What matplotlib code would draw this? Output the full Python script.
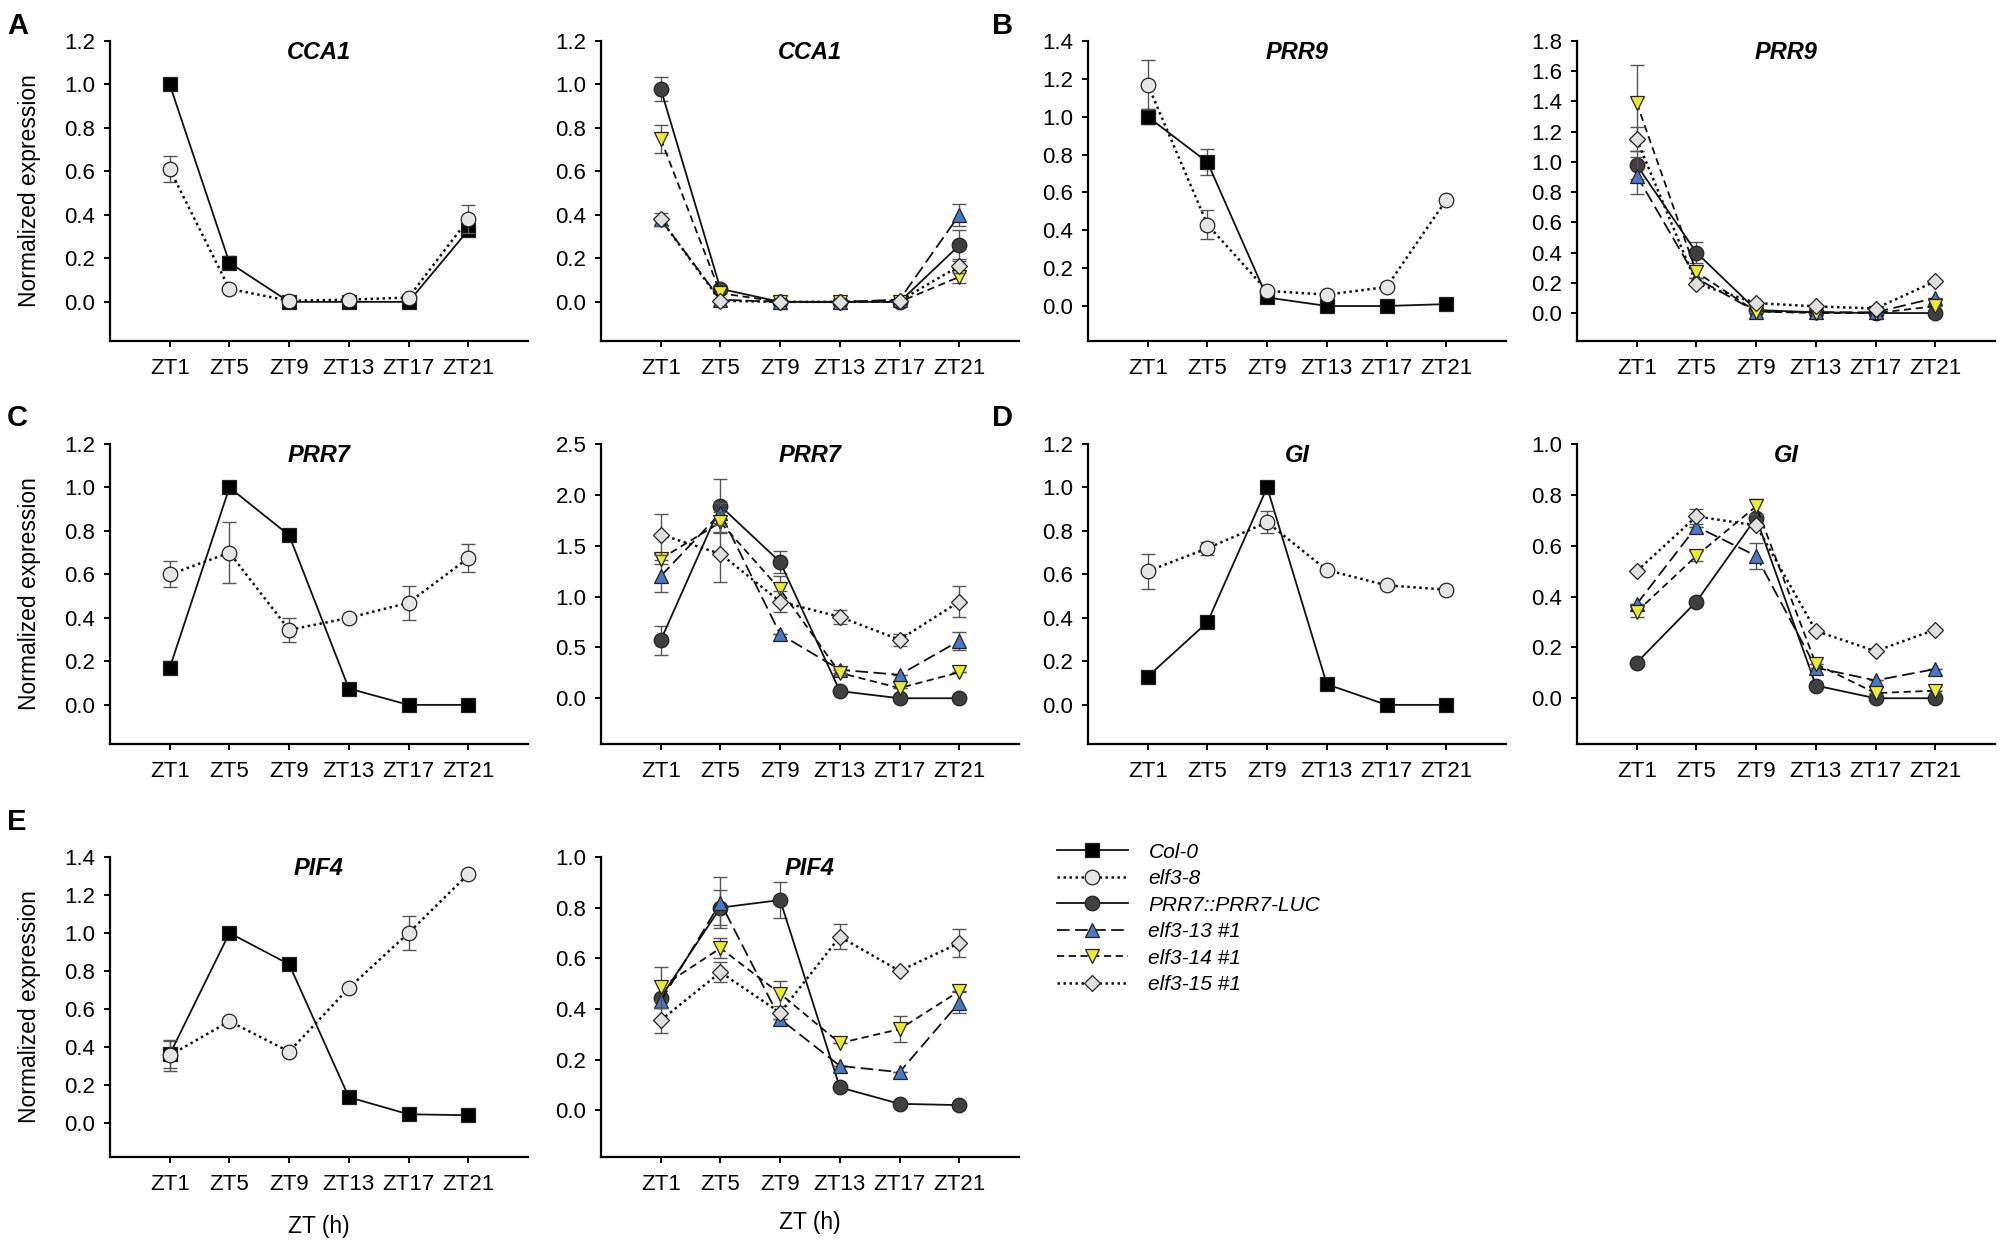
import numpy as np
import matplotlib
matplotlib.use("Agg")
import matplotlib.pyplot as plt
from matplotlib.lines import Line2D

plt.rcParams['font.family'] = ['Liberation Sans', 'DejaVu Sans']

zt_labels = ['ZT1', 'ZT5', 'ZT9', 'ZT13', 'ZT17', 'ZT21']

# CCA1
cca1_col0 = [1.0, 0.18, 0.0, 0.0, 0.0, 0.33]
cca1_col0_err = [0.0, 0.03, 0.0, 0.0, 0.0, 0.02]
cca1_elf38 = [0.61, 0.06, 0.005, 0.01, 0.02, 0.38]
cca1_elf38_err = [0.06, 0.0, 0.0, 0.0, 0.0, 0.065]
cca1_luc = [0.98, 0.06, 0.0, 0.0, 0.0, 0.26]
cca1_luc_err = [0.055, 0.0, 0.0, 0.0, 0.0, 0.07]
cca1_e13 = [0.38, 0.01, 0.0, 0.0, 0.01, 0.40]
cca1_e13_err = [0.0, 0.0, 0.0, 0.0, 0.0, 0.05]
cca1_e14 = [0.75, 0.04, 0.0, 0.0, 0.0, 0.115]
cca1_e14_err = [0.065, 0.0, 0.0, 0.0, 0.0, 0.03]
cca1_e15 = [0.38, 0.005, 0.0, 0.0, 0.005, 0.165]
cca1_e15_err = [0.03, 0.0, 0.0, 0.0, 0.0, 0.03]

# PRR9
prr9_col0 = [1.0, 0.76, 0.045, 0.0, 0.0, 0.01]
prr9_col0_err = [0.04, 0.07, 0.0, 0.0, 0.0, 0.0]
prr9_elf38 = [1.17, 0.43, 0.08, 0.06, 0.10, 0.56]
prr9_elf38_err = [0.13, 0.075, 0.0, 0.0, 0.0, 0.0]
prr9_luc = [0.98, 0.40, 0.02, 0.005, 0.0, 0.0]
prr9_luc_err = [0.09, 0.07, 0.0, 0.0, 0.0, 0.0]
prr9_e13 = [0.91, 0.23, 0.01, 0.005, 0.005, 0.10]
prr9_e13_err = [0.12, 0.0, 0.0, 0.0, 0.0, 0.0]
prr9_e14 = [1.39, 0.27, 0.01, 0.0, 0.0, 0.045]
prr9_e14_err = [0.25, 0.04, 0.0, 0.0, 0.0, 0.0]
prr9_e15 = [1.15, 0.195, 0.066, 0.044, 0.03, 0.21]
prr9_e15_err = [0.08, 0.0, 0.0, 0.0, 0.0, 0.0]

# PRR7
prr7_col0 = [0.17, 1.0, 0.78, 0.075, 0.0, 0.0]
prr7_col0_err = [0.03, 0.0, 0.0, 0.0, 0.0, 0.0]
prr7_elf38 = [0.60, 0.70, 0.345, 0.40, 0.47, 0.675]
prr7_elf38_err = [0.06, 0.14, 0.055, 0.0, 0.078, 0.065]
prr7_luc = [0.57, 1.89, 1.34, 0.07, 0.0, 0.0]
prr7_luc_err = [0.14, 0.27, 0.11, 0.0, 0.0, 0.0]
prr7_e13 = [1.20, 1.82, 0.63, 0.28, 0.23, 0.565]
prr7_e13_err = [0.16, 0.1, 0.0, 0.0, 0.0, 0.09]
prr7_e14 = [1.37, 1.73, 1.07, 0.25, 0.10, 0.255]
prr7_e14_err = [0.05, 0.1, 0.13, 0.0, 0.0, 0.0]
prr7_e15 = [1.61, 1.42, 0.95, 0.80, 0.575, 0.95]
prr7_e15_err = [0.2, 0.28, 0.1, 0.07, 0.06, 0.15]

# GI
gi_col0 = [0.13, 0.38, 1.0, 0.095, 0.0, 0.0]
gi_col0_err = [0.0, 0.0, 0.0, 0.0, 0.0, 0.0]
gi_elf38 = [0.615, 0.72, 0.84, 0.62, 0.55, 0.53]
gi_elf38_err = [0.08, 0.03, 0.05, 0.0, 0.0, 0.0]
gi_luc = [0.14, 0.38, 0.71, 0.05, 0.0, 0.0]
gi_luc_err = [0.0, 0.0, 0.0, 0.0, 0.0, 0.0]
gi_e13 = [0.37, 0.675, 0.56, 0.12, 0.07, 0.115]
gi_e13_err = [0.0, 0.0, 0.05, 0.0, 0.0, 0.0]
gi_e14 = [0.34, 0.56, 0.755, 0.135, 0.02, 0.03]
gi_e14_err = [0.02, 0.02, 0.03, 0.0, 0.0, 0.0]
gi_e15 = [0.50, 0.715, 0.68, 0.265, 0.185, 0.27]
gi_e15_err = [0.0, 0.03, 0.0, 0.0, 0.0, 0.0]

# PIF4
pif4_col0 = [0.36, 1.0, 0.835, 0.135, 0.045, 0.04]
pif4_col0_err = [0.07, 0.0, 0.0, 0.0, 0.0, 0.0]
pif4_elf38 = [0.355, 0.535, 0.375, 0.71, 1.0, 1.31]
pif4_elf38_err = [0.08, 0.0, 0.0, 0.0, 0.09, 0.0]
pif4_luc = [0.445, 0.80, 0.83, 0.09, 0.025, 0.02]
pif4_luc_err = [0.0, 0.07, 0.07, 0.0, 0.0, 0.0]
pif4_e13 = [0.43, 0.82, 0.36, 0.175, 0.15, 0.425]
pif4_e13_err = [0.0, 0.1, 0.0, 0.0, 0.0, 0.04]
pif4_e14 = [0.485, 0.64, 0.46, 0.265, 0.32, 0.47]
pif4_e14_err = [0.08, 0.04, 0.05, 0.0, 0.05, 0.0]
pif4_e15 = [0.355, 0.545, 0.385, 0.685, 0.55, 0.66]
pif4_e15_err = [0.05, 0.04, 0.0, 0.05, 0.0, 0.055]

styles = {
    'Col-0': dict(ls='-', lw=1.3, marker='s', mfc='black', ms=10),
    'elf3-8': dict(ls=(0, (1, 1.4)), lw=1.8, marker='o', mfc='#e6e6e6', ms=10.5),
    'PRR7::PRR7-LUC': dict(ls='-', lw=1.3, marker='o', mfc='#404040', ms=10.5),
    'elf3-13 #1': dict(ls=(0, (7, 3)), lw=1.3, marker='^', mfc='#4a78c4', ms=10.5),
    'elf3-14 #1': dict(ls=(0, (4, 2.5)), lw=1.3, marker='v', mfc='#ecec2e', ms=10.5),
    'elf3-15 #1': dict(ls=(0, (1, 1.4)), lw=1.8, marker='D', mfc='#e0e0e0', ms=8.5),
}

# (gene, [(genotype, values, errors)], ytop, ystep, ybottom)
panels = [
    ('CCA1', [('Col-0', cca1_col0, cca1_col0_err), ('elf3-8', cca1_elf38, cca1_elf38_err)], 1.2, 0.2, -0.18),
    ('CCA1', [('PRR7::PRR7-LUC', cca1_luc, cca1_luc_err), ('elf3-13 #1', cca1_e13, cca1_e13_err),
              ('elf3-14 #1', cca1_e14, cca1_e14_err), ('elf3-15 #1', cca1_e15, cca1_e15_err)], 1.2, 0.2, -0.18),
    ('PRR9', [('Col-0', prr9_col0, prr9_col0_err), ('elf3-8', prr9_elf38, prr9_elf38_err)], 1.4, 0.2, -0.185),
    ('PRR9', [('PRR7::PRR7-LUC', prr9_luc, prr9_luc_err), ('elf3-13 #1', prr9_e13, prr9_e13_err),
              ('elf3-14 #1', prr9_e14, prr9_e14_err), ('elf3-15 #1', prr9_e15, prr9_e15_err)], 1.8, 0.2, -0.185),
    ('PRR7', [('Col-0', prr7_col0, prr7_col0_err), ('elf3-8', prr7_elf38, prr7_elf38_err)], 1.2, 0.2, -0.18),
    ('PRR7', [('PRR7::PRR7-LUC', prr7_luc, prr7_luc_err), ('elf3-13 #1', prr7_e13, prr7_e13_err),
              ('elf3-14 #1', prr7_e14, prr7_e14_err), ('elf3-15 #1', prr7_e15, prr7_e15_err)], 2.5, 0.5, -0.45),
    ('GI', [('Col-0', gi_col0, gi_col0_err), ('elf3-8', gi_elf38, gi_elf38_err)], 1.2, 0.2, -0.18),
    ('GI', [('PRR7::PRR7-LUC', gi_luc, gi_luc_err), ('elf3-13 #1', gi_e13, gi_e13_err),
            ('elf3-14 #1', gi_e14, gi_e14_err), ('elf3-15 #1', gi_e15, gi_e15_err)], 1.0, 0.2, -0.18),
    ('PIF4', [('Col-0', pif4_col0, pif4_col0_err), ('elf3-8', pif4_elf38, pif4_elf38_err)], 1.4, 0.2, -0.18),
    ('PIF4', [('PRR7::PRR7-LUC', pif4_luc, pif4_luc_err), ('elf3-13 #1', pif4_e13, pif4_e13_err),
              ('elf3-14 #1', pif4_e14, pif4_e14_err), ('elf3-15 #1', pif4_e15, pif4_e15_err)], 1.0, 0.2, -0.185),
]

W, H = 2002, 1254
col_left = [110, 601, 1088, 1577]
row_top = [41, 444, 857]
ax_w, ax_h = 418, 300

fig = plt.figure(figsize=(W / 100, H / 100), dpi=100)
x = np.arange(len(zt_labels))

for i, (gene, series, ytop, ystep, ybot) in enumerate(panels):
    r, c = i // 4, i % 4
    left = col_left[c]
    top = row_top[r]
    ax = fig.add_axes([left / W, 1 - (top + ax_h) / H, ax_w / W, ax_h / H])
    for j, (name, vals, errs) in enumerate(series):
        st = styles[name]
        ax.errorbar(x, vals, yerr=errs, fmt='none', ecolor='#555555', elinewidth=1.0,
                    capsize=5, capthick=1.0, zorder=2 + j)
        ax.plot(x, vals, color='#111111', lw=st['lw'], ls=st['ls'], marker=st['marker'],
                mfc=st['mfc'], mec='#222222', mew=0.9, ms=st['ms'], zorder=3 + j)
    ax.set_xlim(-1, 6)
    ax.set_ylim(ybot, ytop)
    ticks = np.arange(0, ytop + 1e-6, ystep)
    ax.set_yticks(ticks)
    ax.set_yticklabels(['%.1f' % v for v in ticks])
    ax.set_xticks(x)
    ax.set_xticklabels(zt_labels)
    for s in ['top', 'right']:
        ax.spines[s].set_visible(False)
    for s in ['left', 'bottom']:
        ax.spines[s].set_linewidth(1.6)
    ax.tick_params(axis='both', direction='out', length=4.5, width=1.4, labelsize=16)
    ax.tick_params(axis='x', pad=8)
    ax.tick_params(axis='y', pad=6)
    ax.text(0.5, 0.963, gene, transform=ax.transAxes, ha='center', va='center',
            fontsize=17, fontweight='bold', fontstyle='italic')

# y labels on left column
for r in range(3):
    yc = row_top[r] + ax_h / 2
    fig.text(30 / W, 1 - yc / H, 'Normalized expression', rotation=90,
             ha='center', va='center', fontsize=16.5)

# x labels on bottom row
fig.text((col_left[0] + ax_w / 2) / W, 1 - 1226 / H, 'ZT (h)', ha='center', va='center', fontsize=16.5)
fig.text((col_left[1] + ax_w / 2) / W, 1 - 1222 / H, 'ZT (h)', ha='center', va='center', fontsize=16.5)

# panel letters
for letter, px, py in [('A', 7, 12), ('B', 992, 12), ('C', 7, 404), ('D', 992, 404), ('E', 7, 808)]:
    fig.text(px / W, 1 - py / H, letter, ha='left', va='top', fontsize=21, fontweight='bold')

# legend
handles = []
for name, st in styles.items():
    handles.append(Line2D([0], [0], color='#111111', lw=st['lw'], ls=st['ls'], marker=st['marker'],
                          mfc=st['mfc'], mec='#222222', mew=0.9, ms=st['ms']))
fig.legend(handles, list(styles.keys()), loc='upper left',
           bbox_to_anchor=(1038 / W, 1 - 824 / H), frameon=False,
           prop={'style': 'italic', 'size': 15}, handlelength=3.4, labelspacing=0.36,
           handletextpad=1.0)

fig.savefig('out.png', dpi=100)
